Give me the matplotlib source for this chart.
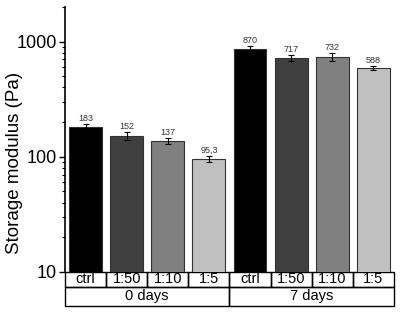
import matplotlib.pyplot as plt
from matplotlib.patches import Rectangle
from matplotlib.ticker import LogLocator, NullFormatter

plt.rcParams['font.family'] = ['Liberation Sans', 'DejaVu Sans']

groups = ['0 days', '7 days']
ratios = ['ctrl', '1:50', '1:10', '1:5']
values = [183, 152, 137, 95.3, 870, 717, 732, 588]
errors = [10, 13, 9, 6, 40, 45, 60, 25]
labels = ['183', '152', '137', '95,3', '870', '717', '732', '588']
colors = ['#000000', '#404040', '#808080', '#c0c0c0'] * 2

fig = plt.figure(figsize=(4.01, 3.14), dpi=100)
ax = fig.add_axes([0.162, 0.134, 0.8205, 0.844])

x = list(range(len(values)))
ax.bar(x, values, width=0.8, color=colors, edgecolor='#333333', linewidth=0.8, zorder=2)
ax.errorbar(x, values, yerr=errors, fmt='none', ecolor='black', elinewidth=0.8,
            capsize=2.5, capthick=0.8, zorder=3)
for xi, v, e, t in zip(x, values, errors, labels):
    ax.text(xi, (v + e) * 1.02, t, ha='center', va='bottom', fontsize=6.5, color='#333344')

ax.set_yscale('log')
ax.set_ylim(10, 2000)
ax.set_xlim(-0.5, 7.5)
ax.yaxis.set_minor_locator(LogLocator(base=10, subs=range(2, 10)))
ax.yaxis.set_minor_formatter(NullFormatter())
ax.set_yticks([10, 100, 1000])
ax.set_yticklabels(['10', '100', '1000'])
ax.tick_params(axis='y', which='major', length=4, width=1, labelsize=13, pad=2)
ax.tick_params(axis='y', which='minor', length=2, width=0.8)
ax.set_xticks([])
for s in ['top', 'right', 'bottom']:
    ax.spines[s].set_visible(False)
ax.spines['left'].set_linewidth(1.2)
ax.set_ylabel('Storage modulus (Pa)', fontsize=13.5, va='center')
ax.yaxis.set_label_coords(-0.152, 0.41)

# category table under the axis
trans = ax.get_xaxis_transform()
h1 = 15 / (314 * 0.844)
h2 = 19 / (314 * 0.844)
for i, xi in enumerate(x):
    ax.add_patch(Rectangle((xi - 0.5, -h1), 1, h1, transform=trans, fill=False,
                           edgecolor='black', linewidth=1, clip_on=False))
    ax.text(xi, -h1 / 2, ratios[i % 4], transform=trans, ha='center', va='center',
            fontsize=10.5)
for g, name in enumerate(groups):
    ax.add_patch(Rectangle((g * 4 - 0.5, -h1 - h2), 4, h2, transform=trans, fill=False,
                           edgecolor='black', linewidth=1, clip_on=False))
    ax.text(g * 4 + 1.5, -h1 - h2 / 2, name, transform=trans, ha='center', va='center',
            fontsize=10.5)

fig.savefig('out.png', dpi=100)
